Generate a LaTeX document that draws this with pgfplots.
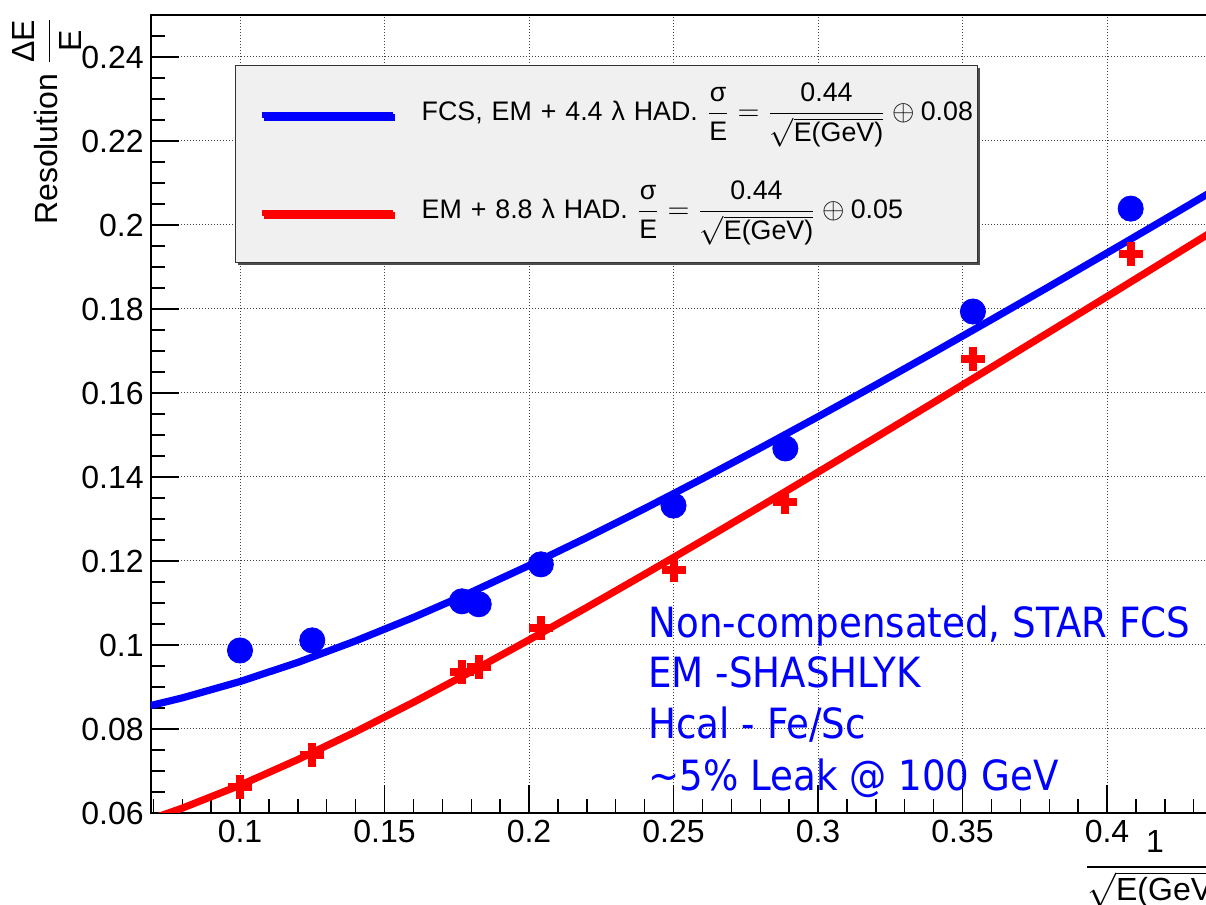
\documentclass[border=0pt]{standalone}
\usepackage{amsmath}
\usepackage{graphicx}
\usepackage{fontspec}
\setmainfont{Liberation Sans}
\newfontfamily\notefont{DejaVu Sans}
\usepackage{pgfplots}
\pgfplotsset{compat=1.18}
\usetikzlibrary{shadows}

\definecolor{rootblue}{RGB}{0,0,255}
\definecolor{rootred}{RGB}{255,0,0}
\definecolor{legendfill}{RGB}{240,240,240}

\newcommand{\note}[1]{\scalebox{1}[1.12]{#1}}

\begin{document}
\begin{tikzpicture}
\path[use as bounding box, clip] (0,0) rectangle (603pt,452.5pt);
\begin{axis}[
  at={(75.35pt,46pt)}, anchor=south west,
  scale only axis, width=535.95pt, height=399pt,
  xmin=0.0691, xmax=0.44, ymin=0.06, ymax=0.25,
  xtick={0.1,0.15,0.2,0.25,0.3,0.35,0.4},
  xticklabels={0.1,0.15,0.2,0.25,0.3,0.35,0.4},
  ytick={0.06,0.08,0.1,0.12,0.14,0.16,0.18,0.2,0.22,0.24},
  yticklabels={0.06,0.08,0.1,0.12,0.14,0.16,0.18,0.2,0.22,0.24},
  minor xtick={0.07,0.08,0.09,0.11,0.12,0.13,0.14,0.16,0.17,0.18,0.19,0.21,0.22,0.23,0.24,0.26,0.27,0.28,0.29,0.31,0.32,0.33,0.34,0.36,0.37,0.38,0.39,0.41,0.42,0.43},
  minor ytick={0.065,0.07,0.075,0.085,0.09,0.095,0.105,0.11,0.115,0.125,0.13,0.135,0.145,0.15,0.155,0.165,0.17,0.175,0.185,0.19,0.195,0.205,0.21,0.215,0.225,0.23,0.235,0.245},
  tick pos=left, tick align=inside,
  major tick length=14pt, minor tick length=7pt,
  tick style={black, line width=0.7pt},
  axis line style={black, line width=0.8pt},
  grid=major,
  major grid style={black!75, line width=0.5pt, dash pattern=on 0.5pt off 1pt},
  ticklabel style={font=\fontsize{16}{19}\selectfont},
  label style={font=\fontsize{16}{19}\selectfont},
  xlabel={$\dfrac{\text{1}}{\sqrt{\text{E(GeV)}}}$},
  xlabel style={at={(rel axis cs:0.937,0)}, anchor=north, yshift=-5pt},
  ylabel={Resolution $\dfrac{\text{ΔE}}{\text{E}}$},
  ylabel style={at={(rel axis cs:-0.0967,1.006)}, anchor=east},
  legend style={
    at={(axis cs:0.0983,0.2381)}, anchor=north west,
    fill=legendfill, draw=black!80, line width=0.6pt,
    drop shadow={shadow xshift=1.2pt, shadow yshift=-1.2pt, fill=black!70, opacity=1},
    inner xsep=0pt, inner ysep=0.25pt, column sep=14.5pt,
    font=\fontsize{13.4}{16}\selectfont,
    cells={anchor=west},
    nodes={minimum height=49pt, text width=278pt, inner xsep=0pt, text depth={}},
  },
  legend image code/.code={
    \pgfpathmoveto{\pgfpointorigin}
    \pgfpathlineto{\pgfpoint{78.5pt}{0pt}}
    \pgfusepath{use as bounding box}
    \draw[#1, line width=3pt] (13pt,0pt) -- (78.5pt,0pt);
  },
]

% resolution fits, sigma/E = a/sqrt(E) (+) b
\addplot[rootblue, line width=3.6pt] coordinates {
  (0.069,0.08557) (0.08,0.08740) (0.10,0.09130) (0.12,0.09585) (0.14,0.10097)
  (0.16,0.10656) (0.18,0.11257) (0.20,0.11893) (0.22,0.12558) (0.24,0.13248)
  (0.26,0.13960) (0.28,0.14689) (0.30,0.15435) (0.32,0.16194) (0.34,0.16965)
  (0.36,0.17746) (0.38,0.18535) (0.40,0.19333) (0.42,0.20137) (0.44,0.20948)
};
\addlegendentry{FCS, EM + 4.4 λ HAD. $\dfrac{\text{σ}}{\text{E}} = \dfrac{\text{0.44}}{\sqrt{\text{E(GeV)}}} \oplus \text{0.08}$}

\addplot[rootred, line width=3.6pt] coordinates {
  (0.069,0.05850) (0.08,0.06115) (0.10,0.06660) (0.12,0.07272) (0.14,0.07934)
  (0.16,0.08635) (0.18,0.09366) (0.20,0.10121) (0.22,0.10895) (0.24,0.11684)
  (0.26,0.12485) (0.28,0.13296) (0.30,0.14115) (0.32,0.14942) (0.34,0.15773)
  (0.36,0.16611) (0.38,0.17452) (0.40,0.18296) (0.42,0.19144) (0.44,0.19995)
};
\addlegendentry{EM + 8.8 λ HAD. $\dfrac{\text{σ}}{\text{E}} = \dfrac{\text{0.44}}{\sqrt{\text{E(GeV)}}} \oplus \text{0.05}$}

% measured points, 4.4 lambda HCal
\addplot[only marks, mark=*, mark size=6.3pt, rootblue, mark options={draw=rootblue, fill=rootblue}, forget plot] coordinates {
  (0.1000,0.0987) (0.1250,0.1011) (0.1768,0.1104) (0.1826,0.1097) (0.2041,0.1192)
  (0.2500,0.1332) (0.2887,0.1468) (0.3536,0.1794) (0.4082,0.2039)
};

% measured points, 8.8 lambda HCal
\addplot[only marks, mark=+, mark size=6pt, rootred, mark options={line width=4pt}, forget plot] coordinates {
  (0.1000,0.0662) (0.1250,0.0738) (0.1768,0.0935) (0.1826,0.0947) (0.2041,0.1040)
  (0.2500,0.1178) (0.2887,0.1340) (0.3536,0.1680) (0.4082,0.1932)
};

\begin{scope}[every node/.style={anchor=base west, inner xsep=0pt, text=rootblue, font=\notefont\fontsize{18.6}{22}\selectfont}]
\node at (axis cs:0.2412,0.10186) {\note{Non-compensated, STAR FCS}};
\node at (axis cs:0.2412,0.08996) {\note{EM -SHASHLYK}};
\node at (axis cs:0.2412,0.07784) {\note{Hcal - Fe/Sc}};
\node at (axis cs:0.2412,0.06547) {\note{\textasciitilde 5\% Leak @ 100 GeV}};
\end{scope}
\end{axis}
\end{tikzpicture}
\end{document}
